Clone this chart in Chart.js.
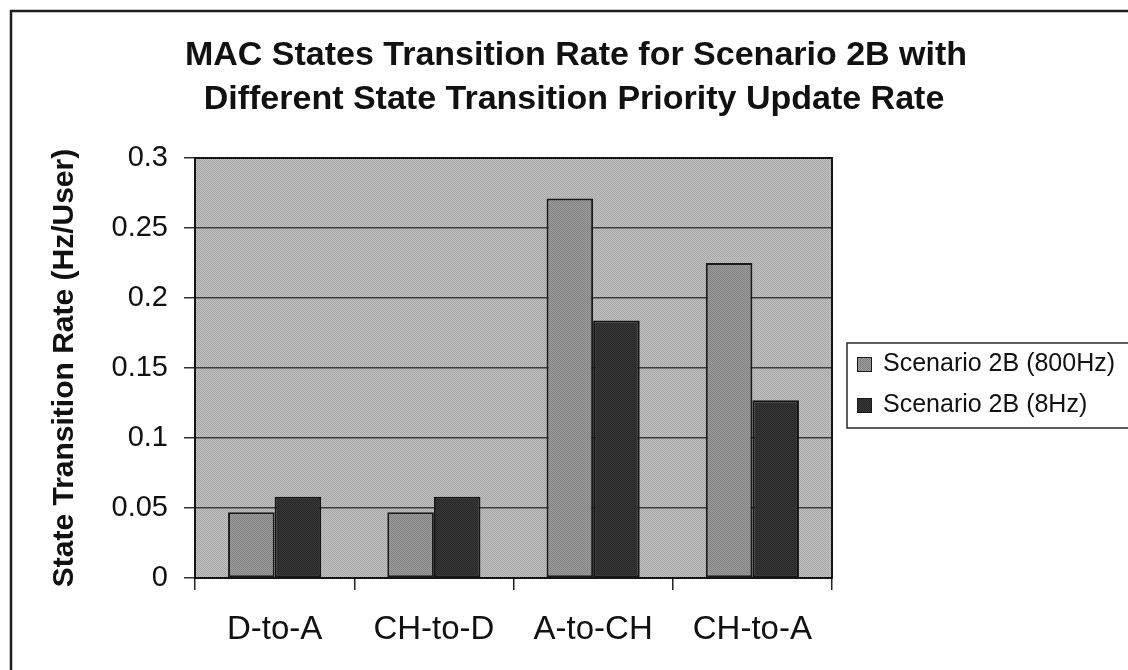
<!DOCTYPE html>
<html>
<head>
<meta charset="utf-8">
<script src="https://cdn.jsdelivr.net/npm/chart.js@4.4.1/dist/chart.umd.min.js"></script>
<style>
  html, body { margin: 0; padding: 0; background: #ffffff; }
  #wrap { width: 1128px; height: 670px; position: relative; }
</style>
</head>
<body>
<div id="wrap"><canvas id="c" width="1128" height="670"></canvas></div>
<script>
// Chart text
const titleLines = [
  'MAC States Transition Rate for Scenario 2B with',
  'Different State Transition Priority Update Rate'
];
const yTitle = 'State Transition Rate (Hz/User)';

// Categories and series
const categories = ['D-to-A', 'CH-to-D', 'A-to-CH', 'CH-to-A'];
const seriesNames = ['Scenario 2B (800Hz)', 'Scenario 2B (8Hz)'];
const rate800Hz = [0.047, 0.047, 0.271, 0.225];
const rate8Hz = [0.058, 0.058, 0.184, 0.127];

// Value axis ticks
const yTicks = [0, 0.05, 0.1, 0.15, 0.2, 0.25, 0.3];

const FONT = '"Liberation Sans", Arial, Helvetica, sans-serif';
const canvas = document.getElementById('c');
const ctx = canvas.getContext('2d');

// Small two-tone stipple used for the plot area and bar fills
function stipple(a, b) {
  const t = document.createElement('canvas');
  t.width = 2; t.height = 2;
  const g = t.getContext('2d');
  g.fillStyle = a; g.fillRect(0, 0, 2, 2);
  g.fillStyle = b; g.fillRect(0, 0, 1, 1); g.fillRect(1, 1, 1, 1);
  return ctx.createPattern(t, 'repeat');
}
const plotFill = stipple('#c2c2c2', '#a6a6a6');
const lightFill = stipple('#9c9c9c', '#828282');
const darkFill = stipple('#383838', '#272727');

// White page with the outer frame
const framePlugin = {
  id: 'frame',
  beforeDraw(chart) {
    const c = chart.ctx;
    c.save();
    c.fillStyle = '#ffffff';
    c.fillRect(0, 0, chart.width, chart.height);
    c.strokeStyle = '#1e1e1e';
    c.lineWidth = 2.5;
    c.beginPath();
    c.moveTo(11, chart.height + 5);
    c.lineTo(11, 11);
    c.lineTo(chart.width + 5, 11);
    c.stroke();
    c.restore();
  }
};

// Plot area background and border
const plotAreaPlugin = {
  id: 'plotArea',
  beforeDraw(chart) {
    const a = chart.chartArea, c = chart.ctx;
    c.save();
    c.fillStyle = plotFill;
    c.fillRect(a.left, a.top, a.right - a.left, a.bottom - a.top);
    c.restore();
  },
  afterDraw(chart) {
    const a = chart.chartArea, c = chart.ctx;
    c.save();
    c.strokeStyle = '#151515';
    c.lineWidth = 2;
    c.strokeRect(a.left, a.top, a.right - a.left, a.bottom - a.top);
    c.restore();
  }
};

// Two-line chart title
const titlePlugin = {
  id: 'twoLineTitle',
  afterDraw(chart) {
    const c = chart.ctx;
    c.save();
    c.fillStyle = '#111111';
    c.font = 'bold 34px ' + FONT;
    c.textAlign = 'center';
    c.textBaseline = 'middle';
    c.fillText(titleLines[0], 576, 56);
    c.fillText(titleLines[1], 574, 100);
    c.restore();
  }
};

// Boxed legend to the right of the plot
const boxLegendPlugin = {
  id: 'boxLegend',
  afterDraw(chart) {
    const c = chart.ctx;
    const left = 847, top = 343, bottom = 428;
    c.save();
    c.strokeStyle = '#2a2a2a';
    c.lineWidth = 1.5;
    c.strokeRect(left, top, 400, bottom - top);
    c.font = '25px ' + FONT;
    c.textBaseline = 'middle';
    c.textAlign = 'left';
    const rows = [364, 405];
    chart.data.datasets.forEach((ds, i) => {
      const y = rows[i];
      c.fillStyle = ds.backgroundColor;
      c.fillRect(857, y - 7, 15, 15);
      c.strokeStyle = '#1a1a1a';
      c.lineWidth = 1;
      c.strokeRect(857.5, y - 6.5, 14, 14);
      c.fillStyle = '#111111';
      c.fillText(ds.label, 883, y);
    });
    c.restore();
  }
};

new Chart(ctx, {
  type: 'bar',
  data: {
    labels: categories,
    datasets: [
      {
        label: seriesNames[0],
        data: rate800Hz,
        backgroundColor: lightFill,
        borderColor: '#1a1a1a',
        borderWidth: 2,
        borderSkipped: false,
        categoryPercentage: 0.585,
        barPercentage: 1.0
      },
      {
        label: seriesNames[1],
        data: rate8Hz,
        backgroundColor: darkFill,
        borderColor: '#141414',
        borderWidth: 2,
        borderSkipped: false,
        categoryPercentage: 0.585,
        barPercentage: 1.0
      }
    ]
  },
  options: {
    responsive: false,
    devicePixelRatio: 1,
    animation: false,
    layout: { padding: { left: 12, top: 158, right: 296, bottom: 0 } },
    plugins: {
      legend: { display: false },
      title: { display: false },
      tooltip: { enabled: false }
    },
    scales: {
      x: {
        type: 'category',
        afterFit(s) { s.height = 92; },
        grid: {
          offset: true,
          drawOnChartArea: false,
          drawTicks: true,
          tickLength: 12,
          color: '#222222',
          lineWidth: 1.5
        },
        border: { display: true, color: '#151515', width: 2 },
        ticks: {
          color: '#111111',
          font: { family: FONT, size: 33 },
          padding: 20,
          maxRotation: 0,
          autoSkip: false
        }
      },
      y: {
        min: 0,
        max: 0.3,
        afterFit(s) { s.width = 183; },
        afterBuildTicks(s) { s.ticks = yTicks.map(v => ({ value: v })); },
        grid: {
          color: '#3c3c3c',
          lineWidth: 1.5,
          tickLength: 11,
          tickColor: '#333333'
        },
        border: { display: true, color: '#151515', width: 2 },
        ticks: {
          color: '#111111',
          font: { family: FONT, size: 29 },
          padding: 16,
          callback: v => String(v)
        },
        title: {
          display: true,
          text: yTitle,
          color: '#111111',
          font: { family: FONT, size: 30, weight: 'bold' },
          padding: { top: 35, bottom: 0 }
        }
      }
    }
  },
  plugins: [framePlugin, plotAreaPlugin, titlePlugin, boxLegendPlugin]
});
</script>
</body>
</html>
